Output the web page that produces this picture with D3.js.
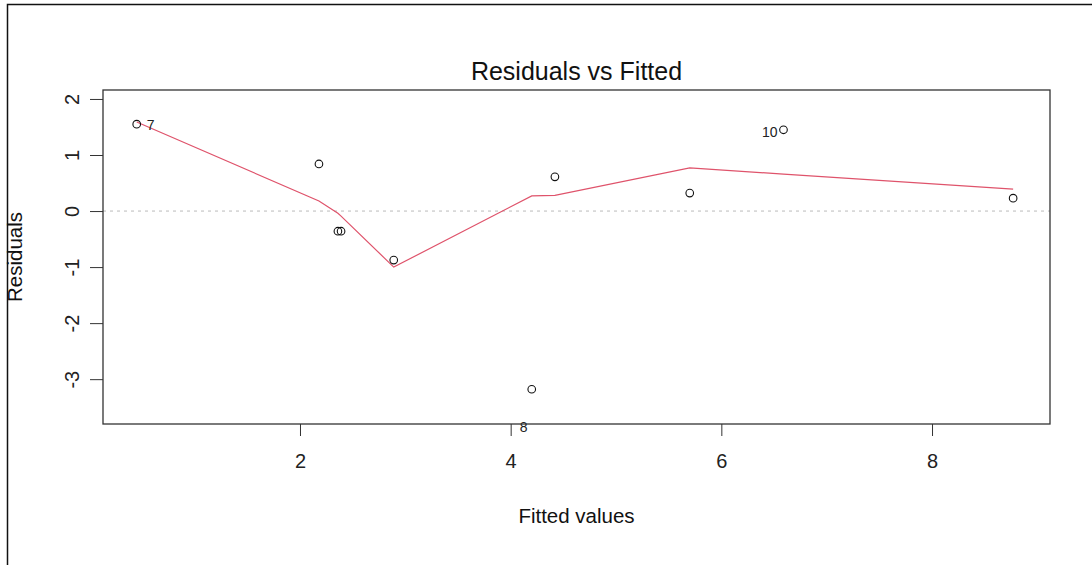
<!DOCTYPE html>
<html>
<head>
<meta charset="utf-8">
<script src="https://cdn.jsdelivr.net/npm/d3@7"></script>
<style>
  body { margin: 0; background: #fff; }
  svg { display: block; font-family: "Liberation Sans", Arial, sans-serif; }
</style>
</head>
<body>
<div id="chart"></div>
<script>
const width = 1092,
  height = 565,
  margin = { top: 90, bottom: 141, left: 103, right: 42 };

// DATA
const fitted = [0.45, 2.18, 2.36, 2.39, 2.89, 4.20, 4.42, 5.70, 6.59, 8.77];
const residuals = [1.55, 0.84, -0.36, -0.36, -0.875, -3.18, 0.61, 0.32, 1.45, 0.23];
const obsIds = ["7", "", "", "", "", "8", "", "", "10", ""];
const smoothX = [0.45, 2.18, 2.36, 2.39, 2.89, 4.20, 4.42, 5.70, 6.59, 8.77];
const smoothY = [1.59, 0.18, -0.04, -0.09, -1.0, 0.27, 0.28, 0.77, 0.66, 0.39];
const xTicks = [2, 4, 6, 8];
const yTicks = [-3, -2, -1, 0, 1, 2];

const svg = d3.select("#chart")
  .append("svg")
  .attr("width", width)
  .attr("height", height);

// outer frame (left + top only)
svg.append("path")
  .attr("d", `M7.5,${height} V4.5 H${width}`)
  .attr("fill", "none")
  .attr("stroke", "#111")
  .attr("stroke-width", 1.5);

// SCALES
const x = d3.scaleLinear()
  .domain([0.13, 9.12])
  .range([margin.left, width - margin.right]);

const y = d3.scaleLinear()
  .domain([-3.80, 2.16])
  .range([height - margin.bottom, margin.top]);

// zero reference line
svg.append("line")
  .attr("x1", x.range()[0]).attr("x2", x.range()[1])
  .attr("y1", y(0)).attr("y2", y(0))
  .attr("stroke", "#bbb")
  .attr("stroke-dasharray", "3,4");

// lowess line
const line = d3.line()
  .x((d, i) => x(smoothX[i]))
  .y(d => y(d));

svg.append("path")
  .datum(smoothY)
  .attr("d", line)
  .attr("fill", "none")
  .attr("stroke", "#DF536B")
  .attr("stroke-width", 1.2);

// points
svg.append("g")
  .selectAll("circle")
  .data(residuals)
  .join("circle")
  .attr("cx", (d, i) => x(fitted[i]))
  .attr("cy", d => y(d))
  .attr("r", 3.8)
  .attr("fill", "none")
  .attr("stroke", "#111")
  .attr("stroke-width", 1.1);

// point labels
const labelPos = { "7": [10, 6, "start"], "8": [-8, 43, "middle"], "10": [-6, 7, "end"] };
svg.append("g")
  .selectAll("text")
  .data(residuals.map((d, i) => ({ r: d, f: fitted[i], id: obsIds[i] })).filter(d => d.id))
  .join("text")
  .attr("x", d => x(d.f) + labelPos[d.id][0])
  .attr("y", d => y(d.r) + labelPos[d.id][1])
  .attr("text-anchor", d => labelPos[d.id][2])
  .attr("font-size", 14)
  .attr("fill", "#222")
  .text(d => d.id);

// plot box
svg.append("rect")
  .attr("x", x.range()[0]).attr("y", y.range()[1])
  .attr("width", x.range()[1] - x.range()[0])
  .attr("height", y.range()[0] - y.range()[1])
  .attr("fill", "none")
  .attr("stroke", "#333")
  .attr("stroke-width", 1.3);

// AXES
const xAxis = svg.append("g")
  .attr("transform", `translate(0,${y.range()[0]})`)
  .call(d3.axisBottom(x).tickValues(xTicks).tickSize(12).tickPadding(18).tickSizeOuter(0));
xAxis.select(".domain").remove();
xAxis.selectAll("line").attr("stroke", "#333");
xAxis.selectAll("text").attr("font-size", 20).attr("fill", "#222")
  .attr("font-family", "Liberation Sans, Arial, sans-serif");

// R style hyphen minus, rotated labels
const yAxis = svg.append("g")
  .attr("transform", `translate(${x.range()[0]},0)`)
  .call(d3.axisLeft(y).tickValues(yTicks).tickSize(13).tickFormat(d => String(d)).tickSizeOuter(0));
yAxis.select(".domain").remove();
yAxis.selectAll("line").attr("stroke", "#333");
yAxis.selectAll("text")
  .attr("font-size", 20).attr("fill", "#222")
  .attr("font-family", "Liberation Sans, Arial, sans-serif")
  .attr("text-anchor", "middle")
  .attr("dominant-baseline", "middle")
  .attr("x", 0)
  .attr("y", 0)
  .attr("dy", 0)
  .attr("transform", "translate(-29,0) rotate(-90)");

// TITLE AND LABELS
svg.append("text")
  .attr("x", (x.range()[0] + x.range()[1]) / 2)
  .attr("y", 80)
  .attr("text-anchor", "middle")
  .attr("font-size", 25)
  .attr("fill", "#111")
  .text("Residuals vs Fitted");

svg.append("text")
  .attr("x", (x.range()[0] + x.range()[1]) / 2)
  .attr("y", 523)
  .attr("text-anchor", "middle")
  .attr("font-size", 20.5)
  .attr("fill", "#111")
  .text("Fitted values");

svg.append("text")
  .attr("transform", `translate(22,${(y.range()[0] + y.range()[1]) / 2}) rotate(-90)`)
  .attr("text-anchor", "middle")
  .attr("font-size", 20.5)
  .attr("fill", "#111")
  .text("Residuals");
</script>
</body>
</html>
